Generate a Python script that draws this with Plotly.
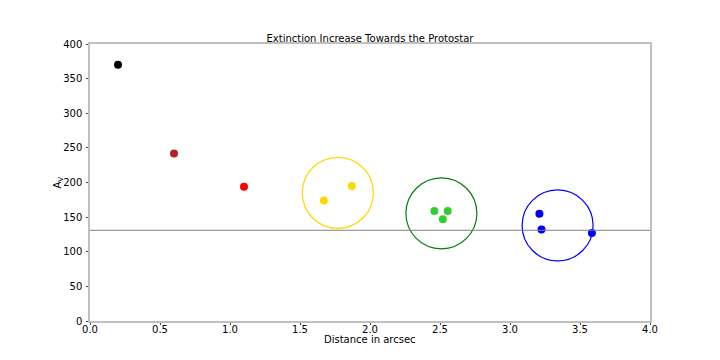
import plotly.graph_objects as go

# observed extinction values
dist = [0.2, 0.6, 1.1, 1.67, 1.87, 2.46, 2.555, 2.52, 3.21, 3.225, 3.585]
av = [370, 242, 194, 174, 195, 159, 159, 147, 155, 132, 127]
colors = ['black', 'firebrick', 'red', 'gold', 'gold', 'limegreen', 'limegreen',
          'limegreen', 'blue', 'blue', 'blue']

# groups marked with rings
ring_x = [1.77, 2.51, 3.34]
ring_y = [185, 155.5, 138]
ring_colors = ['gold', 'green', 'blue']

av_level = 131

fig = go.Figure()
fig.add_trace(go.Scatter(x=ring_x, y=ring_y, mode='markers', hoverinfo='skip',
                         marker=dict(symbol='circle-open', size=71, color=ring_colors,
                                     line=dict(width=1.2, color=ring_colors))))
fig.add_trace(go.Scatter(x=dist, y=av, mode='markers',
                         marker=dict(size=8, color=colors)))
fig.add_hline(y=av_level, line=dict(color='grey', width=1))

axis_style = dict(showline=True, linecolor='#bfbfbf', linewidth=1.5, mirror=True,
                  showgrid=False, zeroline=False, ticks='outside', ticklen=2,
                  tickcolor='#444', tickfont=dict(size=10, color='black'),
                  automargin=False)
fig.update_xaxes(range=[0, 4], tickvals=[0, 0.5, 1, 1.5, 2, 2.5, 3, 3.5, 4],
                 tickformat='.1f', ticklabelstandoff=-4, **axis_style)
fig.update_yaxes(range=[0, 400], dtick=50, ticklabelstandoff=2, **axis_style)

# axis titles placed as annotations to sit where the reference has them
fig.add_annotation(text='Distance in arcsec', xref='paper', yref='paper',
                   x=0.5, y=0, xanchor='center', yanchor='middle', yshift=-18,
                   showarrow=False, font=dict(size=10, color='black'))
fig.add_annotation(text='A<sub>V</sub>', xref='paper', yref='paper',
                   x=0, y=0.5, xanchor='center', yanchor='middle', xshift=-32,
                   textangle=-90, showarrow=False, font=dict(size=10, color='black'))

# page body adds an 8px offset, so margins are shifted to compensate
fig.update_layout(width=720, height=360, showlegend=False,
                  plot_bgcolor='white', paper_bgcolor='white',
                  font=dict(family='DejaVu Sans', color='black'),
                  margin=dict(l=82, r=78, t=36, b=47),
                  title=dict(text='Extinction Increase Towards the Protostar',
                             x=0.5, xref='paper', xanchor='center',
                             y=1, yref='paper', yanchor='bottom', pad=dict(b=2),
                             font=dict(size=10, color='black')))

fig.write_html('out.html')
